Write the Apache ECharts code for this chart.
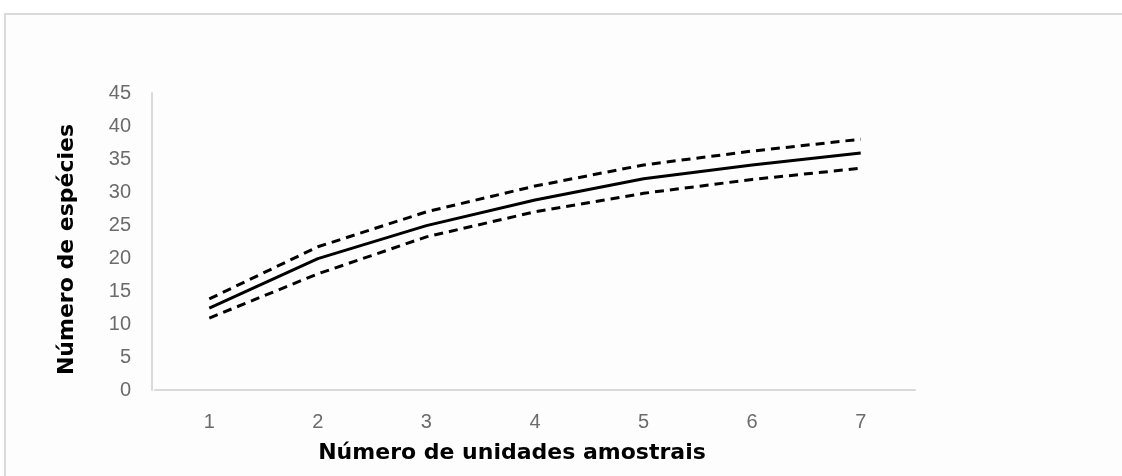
<!DOCTYPE html>
<html>
<head>
<meta charset="utf-8">
<script src="https://cdn.jsdelivr.net/npm/echarts@6/dist/echarts.min.js"></script>
<style>
  html, body { margin: 0; padding: 0; background: #ffffff; }
  .frame {
    position: absolute;
    left: 4px;
    top: 13px;
    width: 1130px;
    height: 480px;
    border: 1px solid #d9d9d9;
    border-width: 2px 0 0 2px;
    background: #fdfdfd;
  }
  #chart { position: absolute; left: 0; top: 0; width: 1122px; height: 476px; }
</style>
</head>
<body>
<div class="frame"></div>
<div id="chart"></div>
<script>
// amostras (eixo x)
const categories = ["1", "2", "3", "4", "5", "6", "7"];
// riqueza estimada e intervalos de confiança
const mean = [12.4, 19.9, 24.9, 28.8, 32.0, 34.1, 35.9];
const upper = [13.8, 21.7, 27.0, 30.9, 34.1, 36.2, 38.0];
const lower = [10.9, 17.6, 23.2, 27.0, 29.8, 31.9, 33.6];

const chart = echarts.init(document.getElementById("chart"));

const option = {
  animation: false,
  grid: { left: 155, top: 93, width: 760, height: 297 },
  xAxis: {
    type: "category",
    data: categories,
    boundaryGap: true,
    name: "Número de unidades amostrais",
    nameLocation: "middle",
    nameGap: 52,
    nameTextStyle: {
      color: "#000",
      fontFamily: "DejaVu Sans",
      fontWeight: "bold",
      fontSize: 22,
      padding: [0, 46, 0, 0]
    },
    axisLine: { lineStyle: { color: "#d9d9d9", width: 2 } },
    axisTick: { show: false },
    axisLabel: {
      margin: 22,
      color: "#6b6b6b",
      fontFamily: "Liberation Sans",
      fontSize: 20
    },
    splitLine: { show: false }
  },
  yAxis: {
    type: "value",
    min: 0,
    max: 45,
    interval: 5,
    offset: 3,
    name: "Número de espécies",
    nameLocation: "middle",
    nameGap: 74,
    nameTextStyle: {
      color: "#000",
      fontFamily: "DejaVu Sans",
      fontWeight: "bold",
      fontSize: 22,
      padding: [0, 16, 0, 0]
    },
    axisLine: { show: true, lineStyle: { color: "#d9d9d9", width: 2 } },
    axisTick: { show: false },
    axisLabel: {
      margin: 21,
      color: "#6b6b6b",
      fontFamily: "Liberation Sans",
      fontSize: 20
    },
    splitLine: { show: false }
  },
  series: [
    {
      name: "superior",
      type: "line",
      data: upper,
      showSymbol: false,
      lineStyle: { color: "#000", width: 3, type: [9, 6] }
    },
    {
      name: "média",
      type: "line",
      data: mean,
      showSymbol: false,
      lineStyle: { color: "#000", width: 3 }
    },
    {
      name: "inferior",
      type: "line",
      data: lower,
      showSymbol: false,
      lineStyle: { color: "#000", width: 3, type: [9, 6] }
    }
  ]
};

chart.setOption(option);
</script>
</body>
</html>
